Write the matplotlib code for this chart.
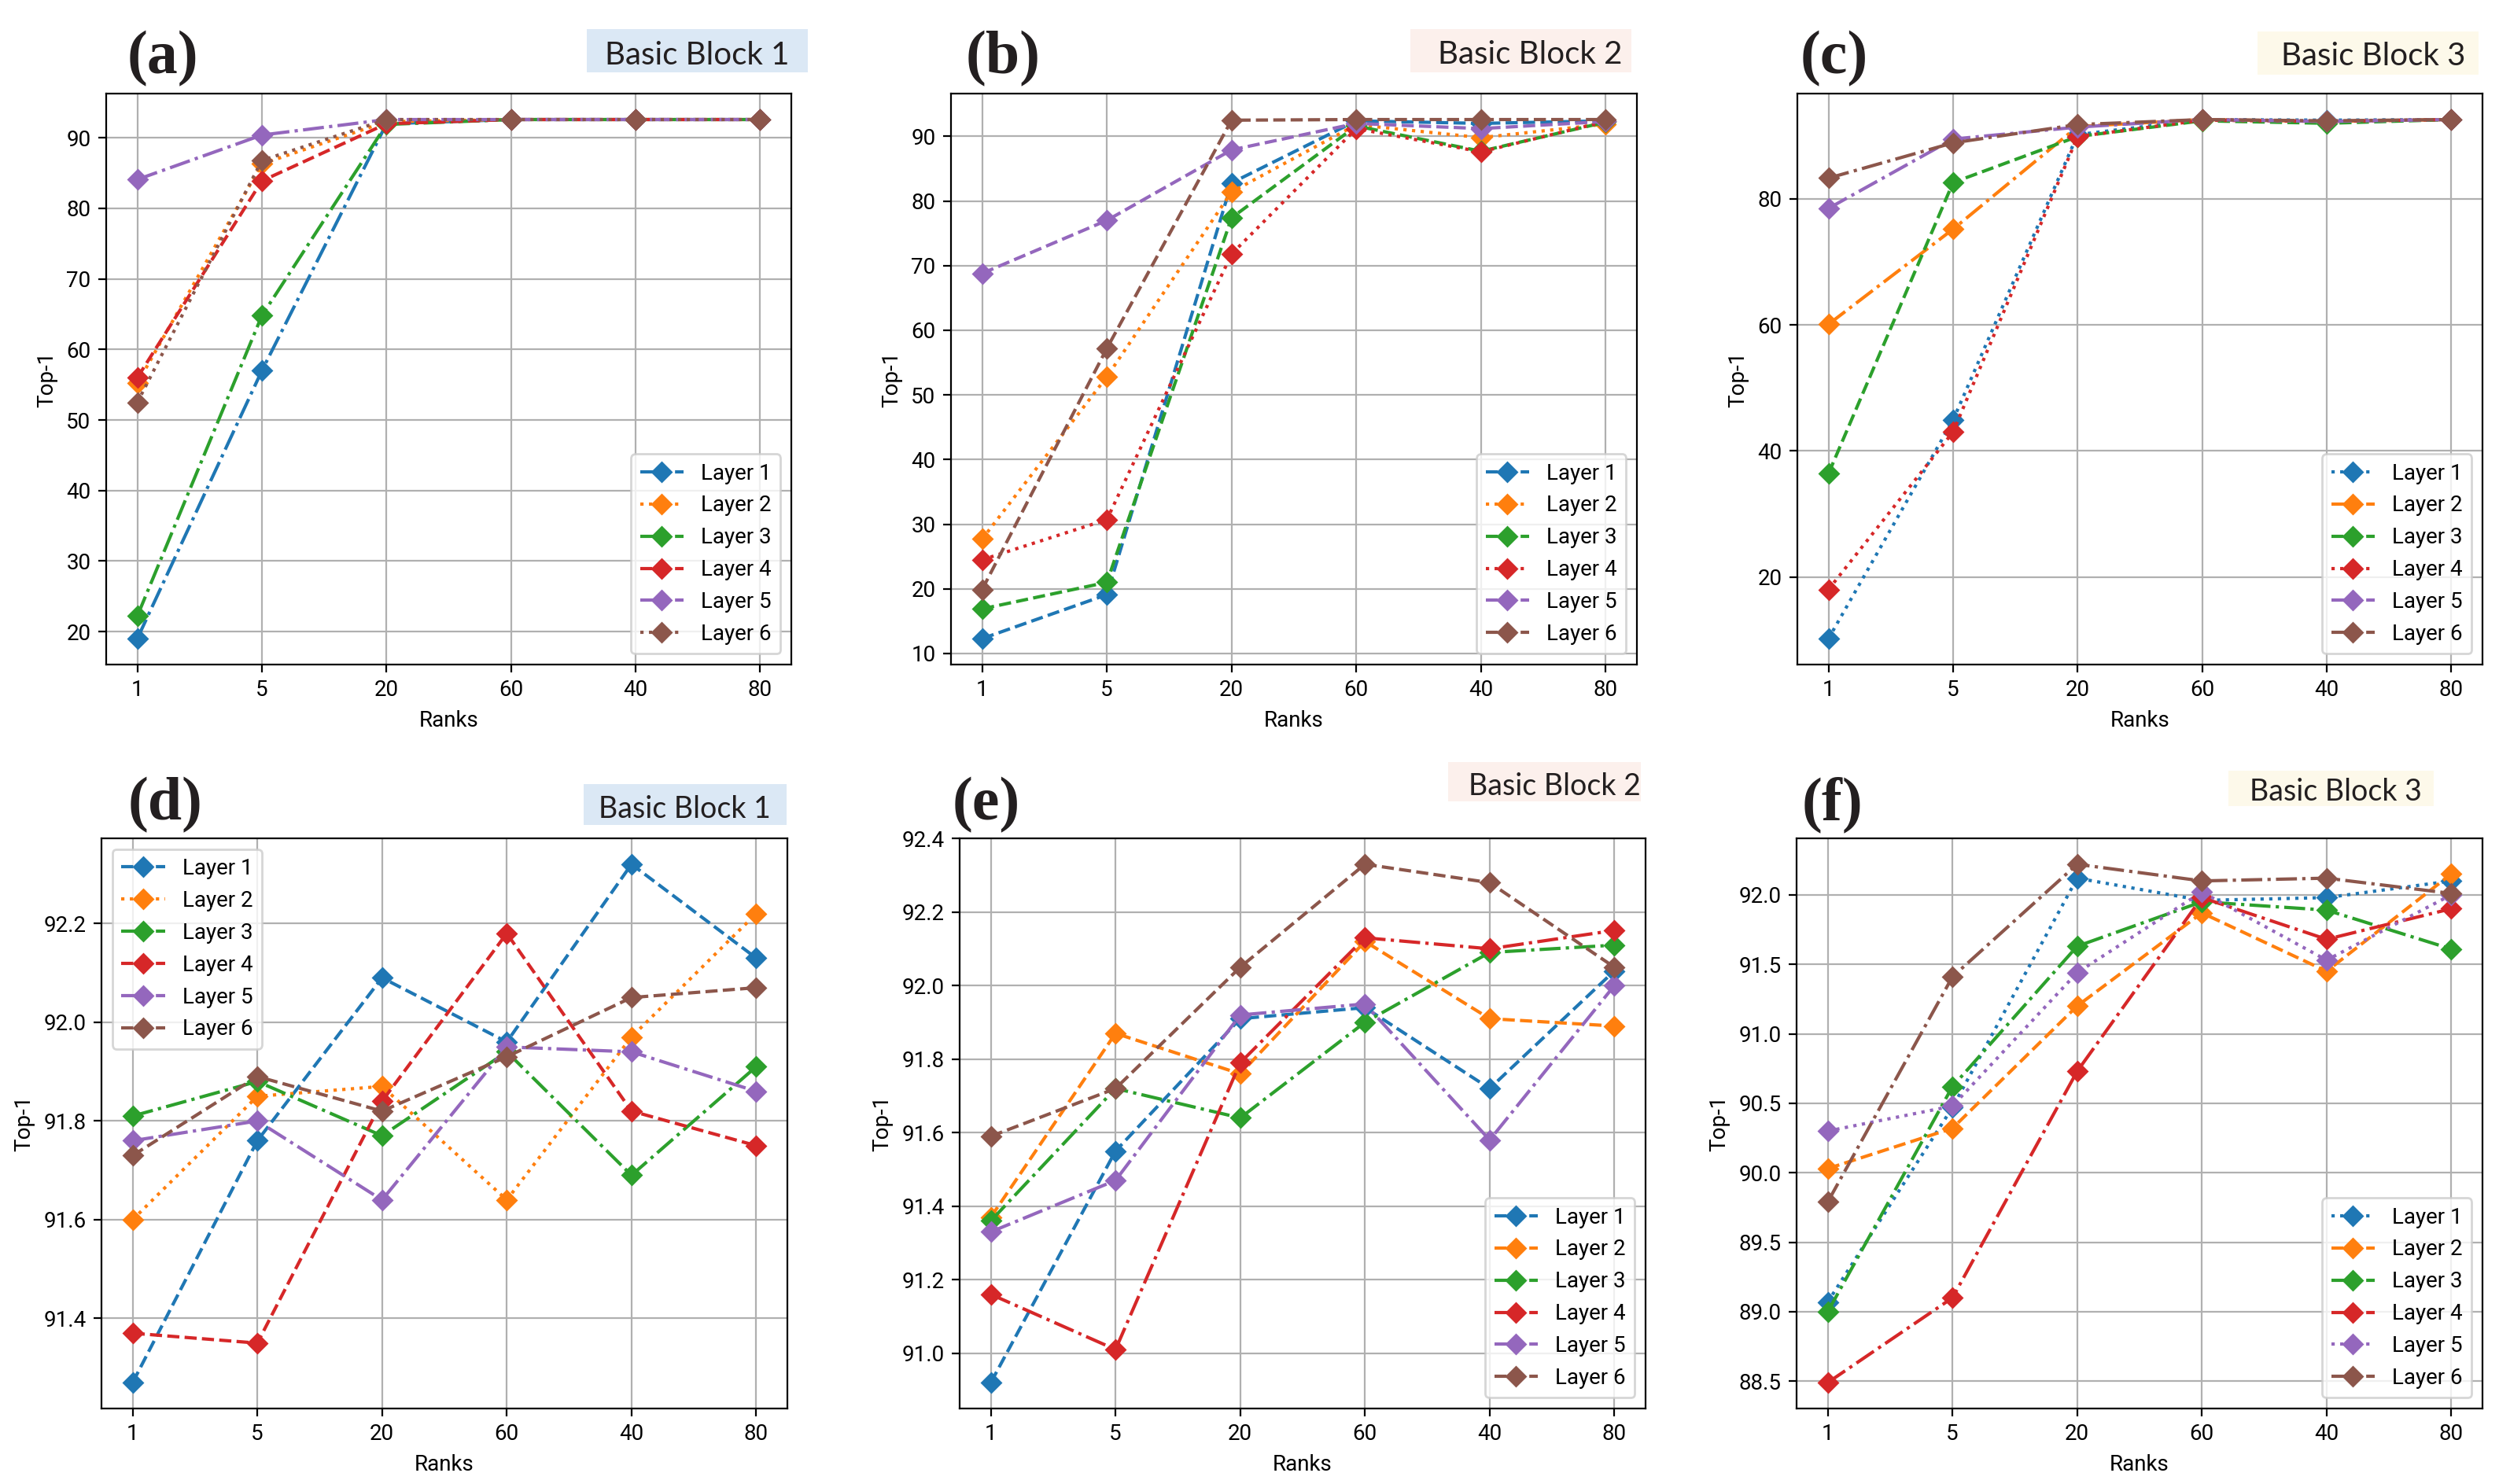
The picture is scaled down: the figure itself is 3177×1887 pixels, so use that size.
import matplotlib
matplotlib.use("Agg")
import matplotlib.pyplot as plt
from matplotlib.patches import Rectangle

plt.rcParams['font.family'] = ['Roboto', 'DejaVu Sans']
plt.rcParams['font.size'] = 10

# ---------------- data ----------------
ranks = ['1', '5', '20', '60', '40', '80']
layer_names = ['Layer 1', 'Layer 2', 'Layer 3', 'Layer 4', 'Layer 5', 'Layer 6']

a_top1 = [
    [19.0, 57.0, 92.0, 92.6, 92.6, 92.6],
    [55.2, 86.3, 92.3, 92.6, 92.6, 92.6],
    [22.2, 64.8, 91.9, 92.6, 92.6, 92.6],
    [56.0, 83.9, 92.0, 92.6, 92.6, 92.6],
    [84.1, 90.4, 92.6, 92.6, 92.6, 92.6],
    [52.5, 86.8, 92.6, 92.6, 92.6, 92.6],
]
b_top1 = [
    [12.3, 19.1, 82.8, 92.4, 92.0, 92.4],
    [27.7, 52.8, 81.4, 91.8, 89.8, 91.9],
    [16.9, 21.0, 77.4, 91.6, 87.7, 92.2],
    [24.5, 30.7, 71.8, 91.2, 87.6, 92.3],
    [68.8, 77.0, 87.9, 92.0, 91.2, 92.3],
    [19.9, 57.2, 92.5, 92.6, 92.6, 92.6],
]
c_top1 = [
    [10.2, 44.9, 90.2, 92.6, 92.5, 92.6],
    [60.1, 75.2, 91.5, 92.6, 92.3, 92.6],
    [36.4, 82.6, 89.9, 92.4, 92.0, 92.6],
    [18.0, 43.0, 89.9, 92.5, 92.3, 92.6],
    [78.5, 89.5, 91.4, 92.6, 92.3, 92.6],
    [83.3, 88.9, 91.8, 92.6, 92.4, 92.6],
]
d_top1 = [
    [91.27, 91.76, 92.09, 91.96, 92.32, 92.13],
    [91.60, 91.85, 91.87, 91.64, 91.97, 92.22],
    [91.81, 91.88, 91.77, 91.94, 91.69, 91.91],
    [91.37, 91.35, 91.84, 92.18, 91.82, 91.75],
    [91.76, 91.80, 91.64, 91.95, 91.94, 91.86],
    [91.73, 91.89, 91.82, 91.93, 92.05, 92.07],
]
e_top1 = [
    [90.92, 91.55, 91.91, 91.94, 91.72, 92.04],
    [91.37, 91.87, 91.76, 92.12, 91.91, 91.89],
    [91.36, 91.72, 91.64, 91.90, 92.09, 92.11],
    [91.16, 91.01, 91.79, 92.13, 92.10, 92.15],
    [91.33, 91.47, 91.92, 91.95, 91.58, 92.00],
    [91.59, 91.72, 92.05, 92.33, 92.28, 92.05],
]
f_top1 = [
    [89.07, 90.47, 92.12, 91.96, 91.98, 92.10],
    [90.03, 90.32, 91.20, 91.87, 91.45, 92.15],
    [89.00, 90.62, 91.63, 91.95, 91.89, 91.61],
    [88.49, 89.10, 90.73, 91.98, 91.68, 91.90],
    [90.30, 90.48, 91.44, 92.02, 91.53, 92.00],
    [89.79, 91.41, 92.22, 92.10, 92.12, 92.01],
]

panel_letters = ['(a)', '(b)', '(c)', '(d)', '(e)', '(f)']
block_names = ['Basic Block 1', 'Basic Block 2', 'Basic Block 3',
               'Basic Block 1', 'Basic Block 2', 'Basic Block 3']

# ---------------- styles ----------------
colors = ['C0', 'C1', 'C2', 'C3', 'C4', 'C5']
styles = {
    'a': ['-.', ':', '-.', '--', '-.', ':'],
    'b': ['--', ':', '--', ':', '--', '--'],
    'c': [':', '-.', '--', ':', '-.', '-.'],
    'd': ['--', ':', '-.', '--', '-.', '--'],
    'e': ['--', '--', '-.', '-.', '-.', '--'],
    'f': [':', '--', '-.', '-.', ':', '-.'],
}
legend_loc = {'a': 'lower right', 'b': 'lower right', 'c': 'lower right',
              'd': 'upper left', 'e': 'lower right', 'f': 'lower right'}
box_colors = ['#dbe8f5', '#fcf0ec', '#fdf9ea', '#dbe8f5', '#fcf0ec', '#fdf9ea']

W, H = 3177, 1887
fig = plt.figure(figsize=(W / 200, H / 200), dpi=200)

# axes rectangles in pixels: (left, right, top, bottom)
ax_px = [(135, 1006, 119, 845), (1209, 2081, 119, 845), (2285, 3156, 119, 845),
         (129, 1001, 1066, 1791), (1220, 2092, 1066, 1791), (2284, 3156, 1066, 1791)]
# block label boxes (x0, x1, y0, y1), text centre x and baseline y
box_px = [(746, 1027, 37, 92), (1793, 2074, 37, 92), (2870, 3151, 40, 95),
          (742, 1000, 997, 1049), (1841, 2086, 969, 1019), (2833, 3094, 980, 1025)]
box_txt = [(886, 82, 14.5), (1945, 81, 14.5), (3017, 83, 14.5),
           (870, 1040, 13.5), (1976, 1011, 13.5), (2969, 1018, 13.5)]
letter_px = [(207, 93), (1275, 93), (2332, 93), (210, 1042), (1254, 1042), (2330, 1042)]

datasets = [a_top1, b_top1, c_top1, d_top1, e_top1, f_top1]
keys = ['a', 'b', 'c', 'd', 'e', 'f']
xpos = list(range(len(ranks)))

for i, (key, data) in enumerate(zip(keys, datasets)):
    l, r, t, b = ax_px[i]
    ax = fig.add_axes([l / W, 1 - b / H, (r - l) / W, (b - t) / H])
    for j in range(6):
        ax.plot(xpos, data[j], linestyle=styles[key][j], marker='D',
                color=colors[j], label=layer_names[j], linewidth=1.5, markersize=6)
    ax.set_xticks(xpos)
    ax.set_xticklabels(ranks)
    ax.set_xlabel('Ranks')
    ax.set_ylabel('Top-1')
    ax.grid(True)
    ax.legend(loc=legend_loc[key])

    x0, x1, y0, y1 = box_px[i]
    fig.patches.append(Rectangle((x0 / W, 1 - y1 / H), (x1 - x0) / W, (y1 - y0) / H,
                                 transform=fig.transFigure, facecolor=box_colors[i],
                                 edgecolor='none', zorder=0))
    cx, by, fs = box_txt[i]
    fig.text(cx / W, 1 - by / H, block_names[i], ha='center', va='baseline',
             fontsize=fs, family=['Lato', 'DejaVu Sans'], color='#231f20')
    lx, ly = letter_px[i]
    fig.text(lx / W, 1 - ly / H, panel_letters[i], ha='center', va='baseline',
             fontsize=28, fontweight='bold', family=['Liberation Serif', 'DejaVu Serif'],
             color='#231f20')

fig.savefig('out.png', dpi=200)
